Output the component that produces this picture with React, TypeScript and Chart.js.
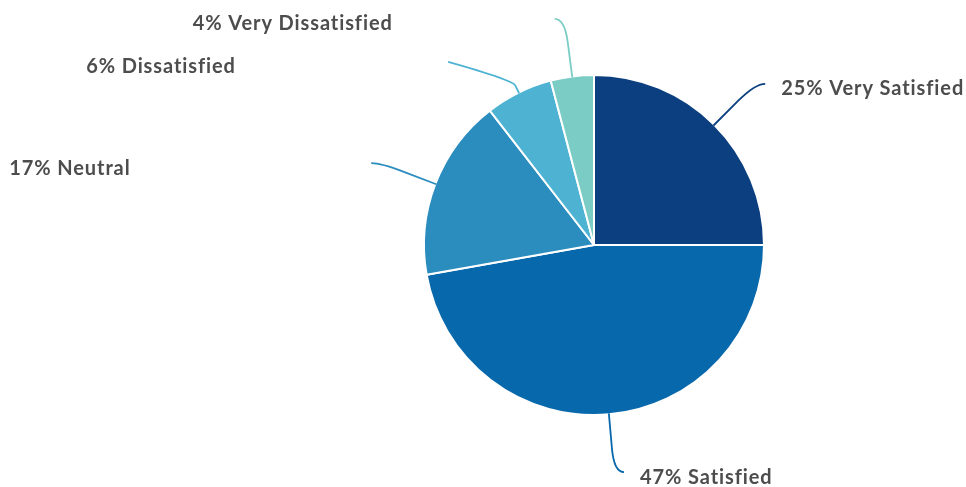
import React, { useEffect, useRef } from "react";
import { Chart, registerables } from "chart.js";

Chart.register(...registerables);

const categories = ["Very Satisfied", "Satisfied", "Neutral", "Dissatisfied", "Very Dissatisfied"];
const values = [25, 47.2, 17.3, 6.4, 4.1];
const colors = ["#0B3F7F", "#0868AC", "#2B8CBE", "#4EB3D3", "#7BCCC4"];

const FONT = "bold 20px Lato";
const TEXT_COLOR = "#4d4d4d";

const calloutPlugin = {
  id: "callouts",
  afterDraw(chart: any) {
    const ctx = chart.ctx;
    const meta = chart.getDatasetMeta(0);
    const data = chart.data.datasets[0].data as number[];
    const total = data.reduce((a, b) => a + b, 0);
    const items: any[] = meta.data.map((arc: any, i: number) => {
      const { x, y, startAngle, endAngle, outerRadius } = arc.getProps(
        ["x", "y", "startAngle", "endAngle", "outerRadius"],
        true
      );
      const mid = (startAngle + endAngle) / 2;
      const cos = Math.cos(mid);
      const sin = Math.sin(mid);
      const R0 = outerRadius - 1;
      const R1 = outerRadius + 58;
      return {
        i,
        cx: x,
        cy: y,
        cos,
        sin,
        R0,
        R1,
        right: cos >= 0,
        natY: y + sin * R1,
        ly: y + sin * R1,
      };
    });
    const gap = 43;
    [true, false].forEach((side) => {
      const group = items.filter((it) => it.right === side).sort((a, b) => a.natY - b.natY);
      for (let k = 1; k < group.length; k++) {
        if (group[k].ly < group[k - 1].ly + gap) group[k].ly = group[k - 1].ly + gap;
      }
    });
    ctx.save();
    items.forEach((it) => {
      const dir = it.right ? 1 : -1;
      const p0x = it.cx + it.cos * it.R0;
      const p0y = it.cy + it.sin * it.R0;
      let p1x: number, p1y: number, p2x: number, p2y: number;
      const shifted = Math.abs(it.ly - it.natY) > 1;
      if (shifted) {
        const dy = it.ly - it.cy;
        const xOff = Math.sqrt(Math.max(it.R1 * it.R1 - dy * dy, 0));
        p2x = it.cx + dir * xOff + dir * 10;
        p2y = it.ly;
        p1x = p0x + it.cos * 15;
        p1y = p0y + it.sin * 15;
      } else {
        p1x = it.cx + it.cos * it.R1;
        p1y = it.natY;
        p2x = p1x + dir * 10;
        p2y = p1y;
      }
      const mx = p0x + 0.6 * (p1x - p0x);
      const my = p0y + 0.6 * (p1y - p0y);
      ctx.beginPath();
      ctx.moveTo(p0x, p0y);
      ctx.lineTo(mx, my);
      ctx.quadraticCurveTo(p1x, p1y, p2x, p2y);
      ctx.strokeStyle = colors[it.i];
      ctx.lineWidth = 1.8;
      ctx.stroke();

      const pct = Math.round((data[it.i] / total) * 100);
      const text = `${pct}% ${categories[it.i]}`;
      ctx.font = FONT;
      (ctx as any).letterSpacing = "0.9px";
      ctx.fillStyle = TEXT_COLOR;
      ctx.textAlign = "left";
      ctx.textBaseline = "middle";
      const tx = it.right ? p2x + 16 : p2x - 362;
      ctx.fillText(text, tx, p2y + 5);
    });
    ctx.restore();
  },
};

export default function App() {
  const ref = useRef<HTMLCanvasElement | null>(null);
  useEffect(() => {
    if (!ref.current) return;
    const chart = new Chart(ref.current, {
      type: "pie",
      data: {
        labels: categories,
        datasets: [
          {
            data: values,
            backgroundColor: colors,
            borderColor: "#ffffff",
            borderWidth: 2,
            hoverOffset: 0,
            offset: 0,
          },
        ],
      },
      options: {
        responsive: false,
        animation: false,
        radius: 170,
        layout: { padding: { left: 300, right: 78, top: 40, bottom: 37 } },
        plugins: {
          legend: { display: false },
          tooltip: { enabled: false },
        },
        events: [],
      } as any,
      plugins: [calloutPlugin],
    });
    return () => chart.destroy();
  }, []);
  return (
    <div style={{ position: "absolute", left: 0, top: 0, width: 966, height: 487, background: "#fff" }}>
      <canvas ref={ref} width={966} height={487} style={{ display: "block" }} />
    </div>
  );
}
